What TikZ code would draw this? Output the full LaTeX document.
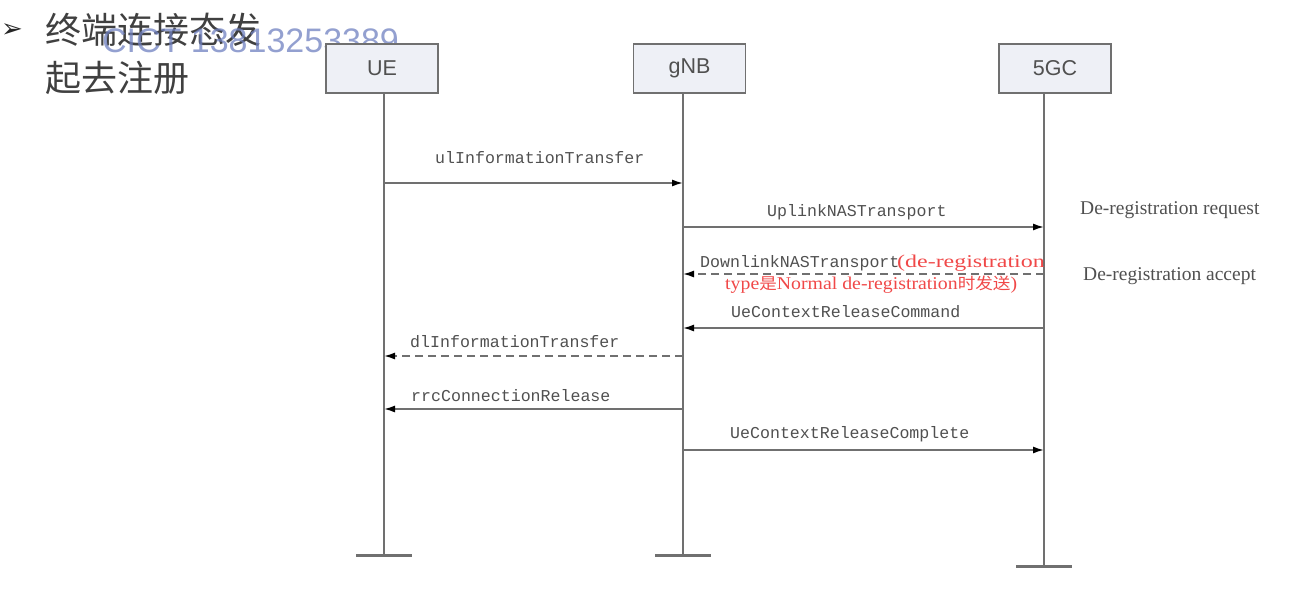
\documentclass[tikz,border=0pt]{standalone}
\usepackage{fontspec}
\setmainfont{Liberation Serif}
\setsansfont{Liberation Sans}
\setmonofont{Liberation Mono}
\newfontfamily\cjk{Noto Sans CJK SC}
\newfontfamily\dejavu{DejaVu Sans}
\usetikzlibrary{arrows.meta}
\definecolor{boxfill}{HTML}{EEF0F6}
\definecolor{linegray}{HTML}{707070}
\definecolor{txtgray}{HTML}{505050}
\definecolor{wm}{HTML}{6F80C0}
\definecolor{redtxt}{HTML}{F04848}
\tikzset{
  actor/.style={draw=linegray, line width=1.2pt, fill=boxfill, minimum width=112pt, minimum height=49pt, font=\sffamily\fontsize{21.5}{21.5}\selectfont, text=txtgray},
  life/.style={draw=linegray, line width=2pt},
  foot/.style={draw=linegray, line width=3pt},
  msg/.style={draw=linegray, line width=1.6pt, -{Latex[length=11pt,width=7pt,black]}},
  dmsg/.style={msg, dash pattern=on 8pt off 5pt},
  lbl/.style={font=\ttfamily\fontsize{16.6}{16.6}\selectfont, text=txtgray, inner sep=0pt},
  note/.style={font=\fontsize{19.5}{19.5}\selectfont, text=txtgray, inner sep=0pt},
  redlbl/.style={font=\fontsize{18}{18}\selectfont, text=redtxt, inner sep=0pt}
}
\begin{document}
\begin{tikzpicture}[x=1pt,y=-1pt]
\useasboundingbox (0,0) rectangle (1290,597);
% title
\node[anchor=west, inner sep=0pt, font=\dejavu\fontsize{26}{26}\selectfont, text=black!85] (arrowmark) at (1,31) {➢};
\node[anchor=north west, inner sep=0pt, align=left, font=\cjk\fontsize{36}{48}\selectfont, text=black!75] (title) at (45,13) {终端连接态发\\起去注册};
% watermark
\node[anchor=west, inner sep=0pt, font=\sffamily\fontsize{34}{34}\selectfont, text=wm, opacity=0.75] (wmark) at (102,41) {CICT 13813253389};
% actors
\node[actor] (ue) at (382,68.5) {UE};
\node[actor] (gnb) at (689.5,68.5) {gNB};
\node[actor] (cn) at (1055,68.5) {5GC};
% lifeline ends
\coordinate (ueend) at (384,555);
\coordinate (gnbend) at (683,555);
\coordinate (cnend) at (1044,566);
\draw[life] (ue.south -| ueend) -- (ueend);
\draw[life] (gnb.south -| gnbend) -- (gnbend);
\draw[life] (cn.south -| cnend) -- (cnend);
\draw[foot] ([xshift=-28pt]ueend) -- ([xshift=28pt]ueend);
\draw[foot] ([xshift=-28pt]gnbend) -- ([xshift=28pt]gnbend);
\draw[foot] ([xshift=-28pt]cnend) -- ([xshift=28pt]cnend);
% message anchor points
\coordinate (u1) at (384,183); \coordinate (g1) at (683,183);
\coordinate (g2) at (683,227); \coordinate (c2) at (1044,227);
\coordinate (c3) at (1044,274); \coordinate (g3) at (683,274);
\coordinate (c4) at (1044,328); \coordinate (g4) at (683,328);
\coordinate (g5) at (683,356); \coordinate (u5) at (384,356);
\coordinate (g6) at (683,409); \coordinate (u6) at (384,409);
\coordinate (g7) at (683,450); \coordinate (c7) at (1044,450);
\draw[msg] (u1) -- (g1);
\draw[msg] (g2) -- (c2);
\draw[dmsg] (c3) -- (g3);
\draw[msg] (c4) -- (g4);
\draw[dmsg] (g5) -- (u5);
\draw[msg] (g6) -- (u6);
\draw[msg] (g7) -- (c7);
% labels
\node[lbl, anchor=west] (l1) at (435,158) {ulInformationTransfer};
\node[lbl, anchor=west] (l2) at (767,212) {UplinkNASTransport};
\node[lbl, anchor=west] (l3) at (700,263) {DownlinkNASTransport};
\node[redlbl, anchor=west] (l3a) at (897,263) {\scalebox{1.33}[1]{(de-registration}};
\node[redlbl, anchor=west] (l3b) at (725,285) {\scalebox{1.1}[1]{type{\cjk\fontsize{16}{16}\selectfont 是}Normal de-registration{\cjk\fontsize{16}{16}\selectfont 时发送})}};
\node[lbl, anchor=west] (l4) at (731,312) {UeContextReleaseCommand};
\node[lbl, anchor=west] (l5) at (410,342) {dlInformationTransfer};
\node[lbl, anchor=west] (l6) at (411,396) {rrcConnectionRelease};
\node[lbl, anchor=west] (l7) at (730,434) {UeContextReleaseComplete};
% notes
\node[note, anchor=west] (n1) at (1080,210) {De-registration request};
\node[note, anchor=west] (n2) at (1083,276) {De-registration accept};
\end{tikzpicture}
\end{document}
